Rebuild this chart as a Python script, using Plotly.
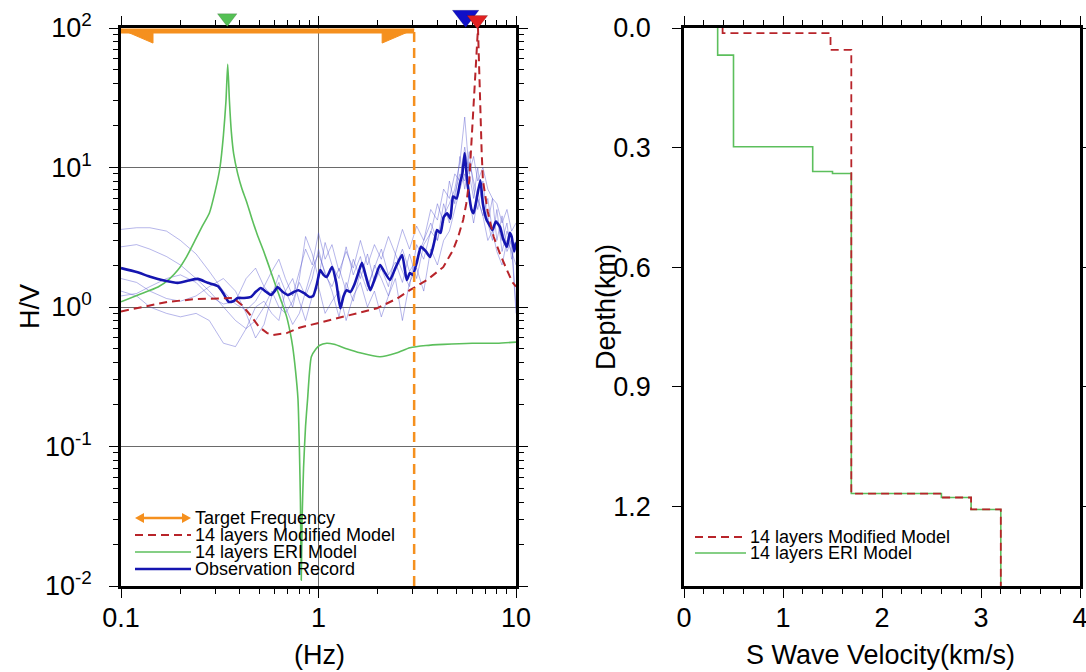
import plotly.graph_objects as go

W, H = 1086, 672

# ---------------- data: H/V spectra ----------------
obs_freq = [0.10, 0.12, 0.142, 0.165, 0.194, 0.22, 0.245, 0.275, 0.31, 0.33, 0.35, 0.37, 0.39, 0.42,
            0.455, 0.48, 0.51, 0.545, 0.575, 0.60, 0.62, 0.66, 0.70, 0.75, 0.79, 0.85, 0.90, 0.94,
            0.98, 1.02, 1.06, 1.10, 1.17, 1.23, 1.29, 1.34, 1.39, 1.45, 1.52, 1.60, 1.66, 1.74,
            1.83, 1.93, 2.05, 2.15, 2.30, 2.45, 2.65, 2.80, 2.90, 3.00, 3.15, 3.30, 3.50, 3.67,
            3.85, 3.98, 4.15, 4.30, 4.48, 4.65, 4.80, 5.00, 5.20, 5.35, 5.50, 5.62, 5.80, 5.95,
            6.10, 6.30, 6.60, 6.80, 7.10, 7.40, 7.60, 7.90, 8.30, 8.60, 9.00, 9.30, 9.50, 9.80, 10.0]
obs_hv = [1.90, 1.78, 1.64, 1.55, 1.49, 1.55, 1.59, 1.49, 1.41, 1.25, 1.09, 1.10, 1.16, 1.16,
          1.18, 1.28, 1.37, 1.28, 1.22, 1.30, 1.39, 1.28, 1.22, 1.28, 1.32, 1.25, 1.18, 1.20,
          1.45, 1.84, 1.70, 1.64, 1.93, 1.50, 0.98, 1.20, 1.32, 1.28, 1.45, 1.80, 2.07, 1.65,
          1.32, 1.60, 2.00, 1.80, 1.56, 1.90, 2.36, 1.56, 1.75, 1.70, 2.10, 2.70, 2.50, 2.28,
          2.90, 3.56, 3.40, 4.40, 4.70, 4.30, 6.20, 6.00, 7.70, 9.00, 12.7, 9.0, 6.2, 5.0,
          4.7, 5.8, 8.1, 5.5, 4.2, 3.8, 3.56, 4.1, 3.75, 3.1, 2.7, 3.4, 3.2, 2.5, 2.9]

rec_freq = [0.10, 0.12, 0.14, 0.17, 0.20, 0.24, 0.28, 0.33, 0.38, 0.43, 0.48, 0.53, 0.58, 0.63,
            0.68, 0.74, 0.80, 0.86, 0.93, 1.00, 1.08, 1.17, 1.27, 1.38, 1.50, 1.63, 1.77, 1.92,
            2.08, 2.26, 2.45, 2.66, 2.89, 3.14, 3.41, 3.70, 4.0, 4.3, 4.6, 4.9, 5.2, 5.5, 5.8,
            6.1, 6.4, 6.8, 7.2, 7.6, 8.0, 8.5, 9.0, 9.5, 10.0]
rec_1 = [3.6, 3.7, 3.7, 3.5, 3.0, 2.4, 1.8, 1.3, 1.05, 0.95, 1.1, 1.4, 1.8, 2.2, 1.6, 1.2, 1.8, 2.6,
         2.0, 3.4, 2.2, 2.8, 1.8, 2.5, 1.9, 3.0, 2.0, 2.8, 2.2, 3.2, 2.4, 3.6, 2.6, 3.8, 3.0, 5.0,
         4.2, 7.0, 6.0, 9.0, 8.0, 14, 9, 12, 8, 10, 7, 6, 5.5, 4, 5, 3.5, 4]
rec_2 = [2.7, 2.8, 2.6, 2.3, 2.0, 1.6, 1.3, 1.0, 0.8, 0.7, 0.8, 1.0, 1.3, 1.0, 0.9, 1.1, 1.5, 1.2,
         1.6, 2.6, 1.7, 1.4, 1.9, 1.3, 2.2, 1.6, 2.4, 1.5, 1.9, 1.4, 2.4, 1.8, 1.4, 2.8, 2.2, 3.5,
         3.0, 4.5, 5.5, 7, 11, 23, 9, 6, 10, 5, 4, 6, 3, 4.5, 2.5, 3, 1.0]
rec_3 = [1.3, 1.2, 1.0, 0.9, 0.85, 0.9, 0.8, 0.55, 0.52, 0.7, 1.0, 1.1, 0.9, 0.8, 1.3, 1.6, 1.1, 0.8,
         1.2, 1.4, 0.9, 1.1, 1.3, 0.8, 1.2, 1.5, 1.0, 1.3, 0.85, 1.2, 1.6, 0.8, 1.5, 1.9, 1.3, 2.6,
         2.0, 3.0, 3.5, 5, 7, 9, 6, 4, 6, 4.5, 3, 3.5, 2.5, 2, 3, 2.5, 2]
rec_4 = [1.2, 1.25, 1.4, 1.6, 1.7, 1.5, 1.2, 1.05, 1.1, 1.6, 1.9, 1.4, 1.2, 1.5, 1.0, 0.75, 0.9, 1.3,
         1.9, 2.4, 1.8, 1.3, 0.85, 1.5, 1.1, 1.8, 1.3, 2.0, 1.6, 1.2, 1.9, 2.6, 1.8, 2.2, 3.0, 4.0,
         3.0, 5.5, 4.0, 6.5, 9, 8, 13, 7, 5, 8, 4, 3, 5, 2.5, 3.5, 2.8, 0.9]
rec_5 = [1.6, 1.5, 1.3, 1.15, 1.1, 1.2, 1.4, 1.6, 1.3, 0.9, 0.6, 0.75, 1.2, 1.7, 1.3, 1.0, 1.6, 3.2,
         2.4, 1.6, 2.9, 2.0, 1.6, 2.7, 1.7, 2.3, 1.4, 1.9, 2.6, 1.7, 2.1, 1.5, 2.4, 1.6, 2.8, 3.4,
         5.5, 4.0, 8.0, 5.5, 12, 7, 11, 8, 6, 4.5, 6, 3.5, 4.2, 3.0, 4.0, 2.2, 3.0]

mod_freq = [0.10, 0.13, 0.173, 0.24, 0.31, 0.37, 0.41, 0.45, 0.50, 0.55, 0.59, 0.69, 0.80, 1.00,
            1.44, 1.98, 2.50, 2.90, 3.54, 4.28, 4.80, 5.10, 5.40, 5.60, 5.80, 6.00, 6.15, 6.25,
            6.35, 6.42, 6.50, 6.60, 6.70, 6.80, 7.20, 7.70, 8.30, 9.00, 9.60, 10.0]
mod_hv = [0.93, 1.00, 1.09, 1.14, 1.16, 1.16, 1.03, 0.88, 0.72, 0.65, 0.63, 0.65, 0.71, 0.77,
          0.88, 0.98, 1.15, 1.32, 1.56, 1.93, 2.56, 3.2, 4.2, 5.5, 8.1, 18.6, 30, 45,
          75, 100, 55, 24, 13, 8.1, 4.8, 3.2, 2.4, 1.84, 1.50, 1.40]

eri_freq = [0.10, 0.122, 0.154, 0.175, 0.194, 0.215, 0.237, 0.258, 0.28, 0.30, 0.317, 0.33, 0.34,
            0.347, 0.354, 0.362, 0.372, 0.39, 0.41, 0.434, 0.46, 0.49, 0.525, 0.56, 0.60, 0.645,
            0.69, 0.72, 0.74, 0.765, 0.787, 0.80, 0.81, 0.818, 0.826, 0.84, 0.86, 0.88, 0.92,
            0.97, 1.01, 1.1, 1.2, 1.4, 1.62, 2.05, 2.5, 2.9, 3.5, 4.3, 6.0, 8.0, 10.0]
eri_hv = [1.09, 1.22, 1.39, 1.58, 1.84, 2.3, 3.0, 3.8, 4.7, 6.8, 10, 17, 30,
          55, 30, 18, 12.5, 9.0, 7.0, 5.6, 4.3, 3.3, 2.56, 1.98, 1.49, 1.12,
          0.85, 0.65, 0.52, 0.35, 0.22, 0.10, 0.04, 0.011, 0.03, 0.07, 0.14, 0.216, 0.44,
          0.50, 0.53, 0.55, 0.54, 0.50, 0.47, 0.44, 0.47, 0.51, 0.53, 0.54, 0.55, 0.55, 0.56]

target_band = [0.1, 3.05]          # Hz
peak_freq = {"eri": 0.345, "obs": 5.56, "mod": 6.37}

x_ticks = [0.1, 1, 10]
x_ticklabels = ["0.1", "1", "10"]
y_ticks = [0.01, 0.1, 1, 10, 100]
y_ticklabels = ["10<sup>-2</sup>", "10<sup>-1</sup>", "10<sup>0</sup>", "10<sup>1</sup>", "10<sup>2</sup>"]

# ---------------- data: velocity profiles ----------------
mod_layer_top = [0.0, 0.013, 0.055, 1.168, 1.178, 1.208]
mod_layer_vs = [0.39, 1.48, 1.69, 2.6, 2.9, 3.2]
eri_layer_top = [0.0, 0.068, 0.298, 0.360, 0.365, 1.168, 1.178, 1.208]
eri_layer_vs = [0.34, 0.50, 1.30, 1.50, 1.69, 2.6, 2.9, 3.2]
max_depth = 1.4

vs_ticks = [0, 1, 2, 3, 4]
depth_ticks = [0.0, 0.3, 0.6, 0.9, 1.2]
depth_ticklabels = ["0.0", "0.3", "0.6", "0.9", "1.2"]

# ---------------- colours ----------------
C_RED = "#b8242a"
C_GREEN = "#5cbf5c"
C_BLUE = "#1515b0"
C_THIN = "rgba(80,80,205,0.42)"
C_ORANGE = "#f5901e"
FONT = "Liberation Sans, Arial, Helvetica, sans-serif"


def px(x):
    return x / W


def py(y):
    return 1 - y / H


def step_profile(tops, vs, bottom):
    xs, ys = [], []
    for i, v in enumerate(vs):
        b = tops[i + 1] if i + 1 < len(tops) else bottom
        xs += [v, v]
        ys += [tops[i], b]
    return xs, ys


fig = go.Figure()

# thin individual records
for rec in (rec_1, rec_2, rec_3, rec_4, rec_5):
    fig.add_trace(go.Scatter(x=rec_freq, y=rec, mode="lines", line=dict(color=C_THIN, width=1),
                             xaxis="x", yaxis="y", hoverinfo="skip"))
# ERI model
fig.add_trace(go.Scatter(x=eri_freq, y=eri_hv, mode="lines",
                         line=dict(color=C_GREEN, width=1.6, shape="spline", smoothing=0.6),
                         xaxis="x", yaxis="y"))
# Observation mean
fig.add_trace(go.Scatter(x=obs_freq, y=obs_hv, mode="lines",
                         line=dict(color=C_BLUE, width=2.6, shape="spline", smoothing=0.5),
                         xaxis="x", yaxis="y"))
# Modified model
fig.add_trace(go.Scatter(x=mod_freq, y=mod_hv, mode="lines",
                         line=dict(color=C_RED, width=2, dash="8px,5px"), xaxis="x", yaxis="y"))
# target band upper limit (dashed vertical)
fig.add_trace(go.Scatter(x=[target_band[1], target_band[1]], y=[0.01, 100], mode="lines",
                         line=dict(color=C_ORANGE, width=2.5, dash="10px,6px"), xaxis="x", yaxis="y"))

# target-frequency arrow at the top of the panel
bar_y = 95
tip_y = 78
head = 10 ** 0.162
lo, hi = target_band
fig.add_trace(go.Scatter(x=[lo, hi], y=[bar_y, bar_y], mode="lines",
                         line=dict(color=C_ORANGE, width=5), xaxis="x", yaxis="y"))
fig.add_trace(go.Scatter(x=[lo, lo * head, lo * head, lo], y=[bar_y * 1.03, bar_y, tip_y, bar_y * 1.03],
                         mode="lines", fill="toself", fillcolor=C_ORANGE, line=dict(color=C_ORANGE, width=1),
                         xaxis="x", yaxis="y"))
fig.add_trace(go.Scatter(x=[hi, hi / head, hi / head, hi], y=[bar_y * 1.03, bar_y, tip_y, bar_y * 1.03],
                         mode="lines", fill="toself", fillcolor=C_ORANGE, line=dict(color=C_ORANGE, width=1),
                         xaxis="x", yaxis="y"))

# peak markers above the frame (own invisible axes, y in pixel rows)
for key, col, sz, yv in (("eri", "#55c055", 17, 18), ("obs", "#1010c8", 23, 16), ("mod", "#e02020", 18, 20)):
    fig.add_trace(go.Scatter(x=[peak_freq[key]], y=[yv], mode="markers", cliponaxis=False,
                             marker=dict(symbol="triangle-down", size=sz, color=col,
                                         line=dict(color="rgba(0,0,0,0.3)", width=0.5)),
                             xaxis="x3", yaxis="y3"))

# velocity profiles
ex, ey = step_profile(eri_layer_top, eri_layer_vs, max_depth)
mx, my = step_profile(mod_layer_top, mod_layer_vs, max_depth)
fig.add_trace(go.Scatter(x=ex, y=ey, mode="lines", line=dict(color=C_GREEN, width=1.6),
                         xaxis="x2", yaxis="y2"))
fig.add_trace(go.Scatter(x=mx, y=my, mode="lines", line=dict(color=C_RED, width=1.8, dash="8px,5px"),
                         xaxis="x2", yaxis="y2"))

# ---------------- axes ----------------
TICK = 27
TITLE = 27
frame = dict(showline=True, linecolor="black", linewidth=2.5, mirror="allticks",
             ticks="outside", tickcolor="black", tickwidth=1.2, zeroline=False, automargin=False,
             ticklabeloverflow="allow",
             tickfont=dict(family=FONT, size=TICK, color="black"))

dom_y = [py(586), py(28)]
minor_log = [0.2, 0.3, 0.4, 0.5, 0.6, 0.7, 0.8, 0.9, 2, 3, 4, 5, 6, 7, 8, 9]
minor_log_y = [v * m for v in (0.01, 0.1, 1, 10) for m in (2, 3, 4, 5, 6, 7, 8, 9)]

fig.update_layout(
    width=W, height=H, margin=dict(l=0, r=0, t=0, b=0, autoexpand=False),
    paper_bgcolor="white", plot_bgcolor="rgba(0,0,0,0)", showlegend=False,
    font=dict(family=FONT, color="black"),
    xaxis=dict(frame, type="log", range=[-1, 1], domain=[px(121), px(516)], anchor="y",
               tickvals=x_ticks, ticktext=x_ticklabels, ticklen=9, ticklabelstandoff=-3,
               showgrid=True, gridcolor="#6a6a6a", gridwidth=1,
               minor=dict(tickvals=minor_log, ticks="outside", ticklen=5, tickcolor="black", showgrid=False)),
    yaxis=dict(frame, type="log", range=[-2, 2], domain=dom_y, anchor="x",
               tickvals=y_ticks, ticktext=y_ticklabels, ticklen=9, ticklabelstandoff=12,
               showgrid=True, gridcolor="#6a6a6a", gridwidth=1,
               minor=dict(tickvals=minor_log_y, ticks="outside", ticklen=5, tickcolor="black", showgrid=False)),
    xaxis2=dict(frame, range=[0, 4], domain=[px(684), px(1080)], anchor="y2",
                tickvals=vs_ticks, ticklen=9, ticklabelstandoff=-3, showgrid=False,
                minor=dict(dtick=0.2, ticks="outside", ticklen=5, tickcolor="black", showgrid=False)),
    yaxis2=dict(frame, range=[max_depth, 0], domain=dom_y, anchor="x2",
                tickvals=depth_ticks, ticktext=depth_ticklabels, ticklen=9, ticklabelstandoff=16,
                showgrid=False),
    xaxis3=dict(type="log", range=[-1, 1], domain=[px(121), px(516)], anchor="y3", visible=False),
    yaxis3=dict(range=[40, 0], domain=[py(40), 1], anchor="x3", visible=False),
)

# ---------------- hand-made legends and axis titles ----------------
shapes = []
annos = []
leg_font = dict(family=FONT, size=18, color="black")
title_font = dict(family=FONT, size=TITLE, color="black")

for txt, xx, yy, ang in (("H/V", 30, 307, -90), ("(Hz)", 319, 655, 0),
                         ("Depth(km)", 606, 307, -90), ("S Wave Velocity(km/s)", 880, 655, 0)):
    annos.append(dict(xref="paper", yref="paper", x=px(xx), y=py(yy), text=txt, showarrow=False,
                      xanchor="center", yanchor="middle", textangle=ang, font=title_font))

# left legend
rows = [(518, "Target Frequency"), (535, "14 layers Modified Model"),
        (552, "14 layers ERI Model"), (569, "Observation Record")]
x0, x1, xt = 135, 191, 193
shapes.append(dict(type="line", xref="paper", yref="paper", x0=px(x0 + 5), x1=px(x1 - 5),
                   y0=py(rows[0][0]), y1=py(rows[0][0]), line=dict(color=C_ORANGE, width=2.5)))
shapes.append(dict(type="path", xref="paper", yref="paper",
                   path=f"M {px(x0)} {py(rows[0][0])} L {px(x0 + 9)} {py(rows[0][0] - 5)} "
                        f"L {px(x0 + 9)} {py(rows[0][0] + 5)} Z",
                   fillcolor=C_ORANGE, line=dict(color=C_ORANGE, width=0)))
shapes.append(dict(type="path", xref="paper", yref="paper",
                   path=f"M {px(x1)} {py(rows[0][0])} L {px(x1 - 9)} {py(rows[0][0] - 5)} "
                        f"L {px(x1 - 9)} {py(rows[0][0] + 5)} Z",
                   fillcolor=C_ORANGE, line=dict(color=C_ORANGE, width=0)))
shapes.append(dict(type="line", xref="paper", yref="paper", x0=px(x0), x1=px(x1),
                   y0=py(rows[1][0]), y1=py(rows[1][0]), line=dict(color=C_RED, width=2, dash="8px,5px")))
shapes.append(dict(type="line", xref="paper", yref="paper", x0=px(x0), x1=px(x1),
                   y0=py(rows[2][0]), y1=py(rows[2][0]), line=dict(color=C_GREEN, width=1.6)))
shapes.append(dict(type="line", xref="paper", yref="paper", x0=px(x0), x1=px(x1),
                   y0=py(rows[3][0]), y1=py(rows[3][0]), line=dict(color=C_BLUE, width=2.5)))
for yy, txt in rows:
    annos.append(dict(xref="paper", yref="paper", x=px(xt), y=py(yy), text=txt, showarrow=False,
                      xanchor="left", yanchor="middle", font=leg_font))

# right legend
rows2 = [(537, "14 layers Modified Model", C_RED, "8px,5px", 2), (553, "14 layers ERI Model", C_GREEN, "solid", 1.6)]
for yy, txt, col, dash, wd in rows2:
    shapes.append(dict(type="line", xref="paper", yref="paper", x0=px(695), x1=px(746),
                       y0=py(yy), y1=py(yy), line=dict(color=col, width=wd, dash=dash)))
    annos.append(dict(xref="paper", yref="paper", x=px(748), y=py(yy), text=txt, showarrow=False,
                      xanchor="left", yanchor="middle", font=leg_font))

fig.update_layout(shapes=shapes, annotations=annos)

fig.write_html("out.html", config={"displayModeBar": False},
               post_script="document.body.style.margin='0';document.body.style.overflow='hidden';")
